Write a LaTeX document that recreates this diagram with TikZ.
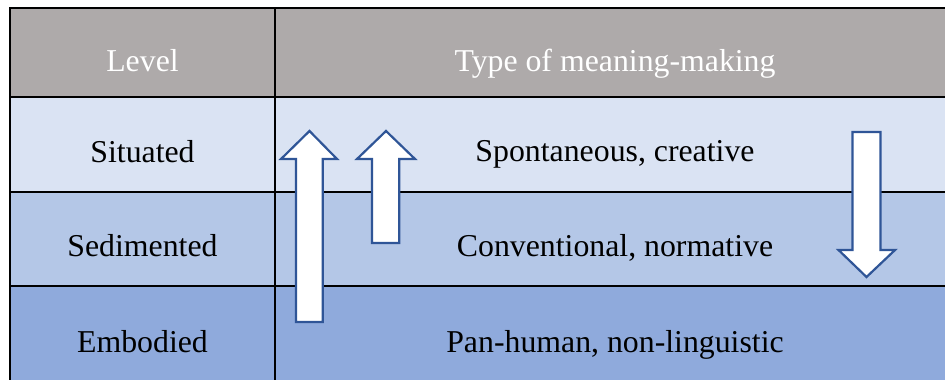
\documentclass[tikz,border=0pt]{standalone}
\usepackage{fontspec}
\setmainfont{Liberation Serif}
\begin{document}
\begin{tikzpicture}[x=0.5pt,y=-0.5pt,
  cell/.style={anchor=base,inner sep=0pt,font=\fontsize{15.9}{19}\selectfont},
  headtxt/.style={cell,text=white},
  grid/.style={line width=1pt,draw=black},
  blockarrow/.style={draw=arrowblue,fill=white,line width=1.1pt,line join=miter}]
\definecolor{headgrey}{HTML}{AEAAAA}
\definecolor{rowA}{HTML}{DAE3F3}
\definecolor{rowB}{HTML}{B4C7E7}
\definecolor{rowC}{HTML}{8FAADC}
\definecolor{arrowblue}{HTML}{2F5597}
\useasboundingbox (0,0) rectangle (945,380);
% fills
\fill[headgrey] (10,8) rectangle (945,96.5);
\fill[rowA] (10,96.5) rectangle (945,191.5);
\fill[rowB] (10,191.5) rectangle (945,286);
\fill[rowC] (10,286) rectangle (945,380);
% grid lines
\draw[grid] (9,8) -- (945,8);
\draw[grid] (10,96.5) -- (945,96.5);
\draw[grid] (10,191.5) -- (945,191.5);
\draw[grid] (10,286) -- (945,286);
\draw[grid] (10,7.5) -- (10,380);
\draw[grid] (275,7.5) -- (275,380);
% texts
\node[headtxt] (hlevel) at (142.5,71) {Level};
\node[headtxt] (htype) at (615,71) {Type of meaning-making};
\node[cell] (l1) at (142.5,162) {Situated};
\node[cell] (l2) at (142.5,256) {Sedimented};
\node[cell] (l3) at (142.5,352) {Embodied};
\node[cell] (t1) at (615,161) {Spontaneous, creative};
\node[cell] (t2) at (615,256) {Conventional, normative};
\node[cell] (t3) at (615,352) {Pan-human, non-linguistic};
% block arrows
\draw[blockarrow] (309.5,131) -- (337,159) -- (322.7,159) -- (322.7,322) -- (296,322) -- (296,159) -- (281,159) -- cycle;
\draw[blockarrow] (386,131) -- (415,159) -- (399.3,159) -- (399.3,243) -- (372,243) -- (372,159) -- (357,159) -- cycle;
\draw[blockarrow] (866.5,277) -- (895,250) -- (880.5,250) -- (880.5,132) -- (852.5,132) -- (852.5,250) -- (838.5,250) -- cycle;
\end{tikzpicture}
\end{document}
